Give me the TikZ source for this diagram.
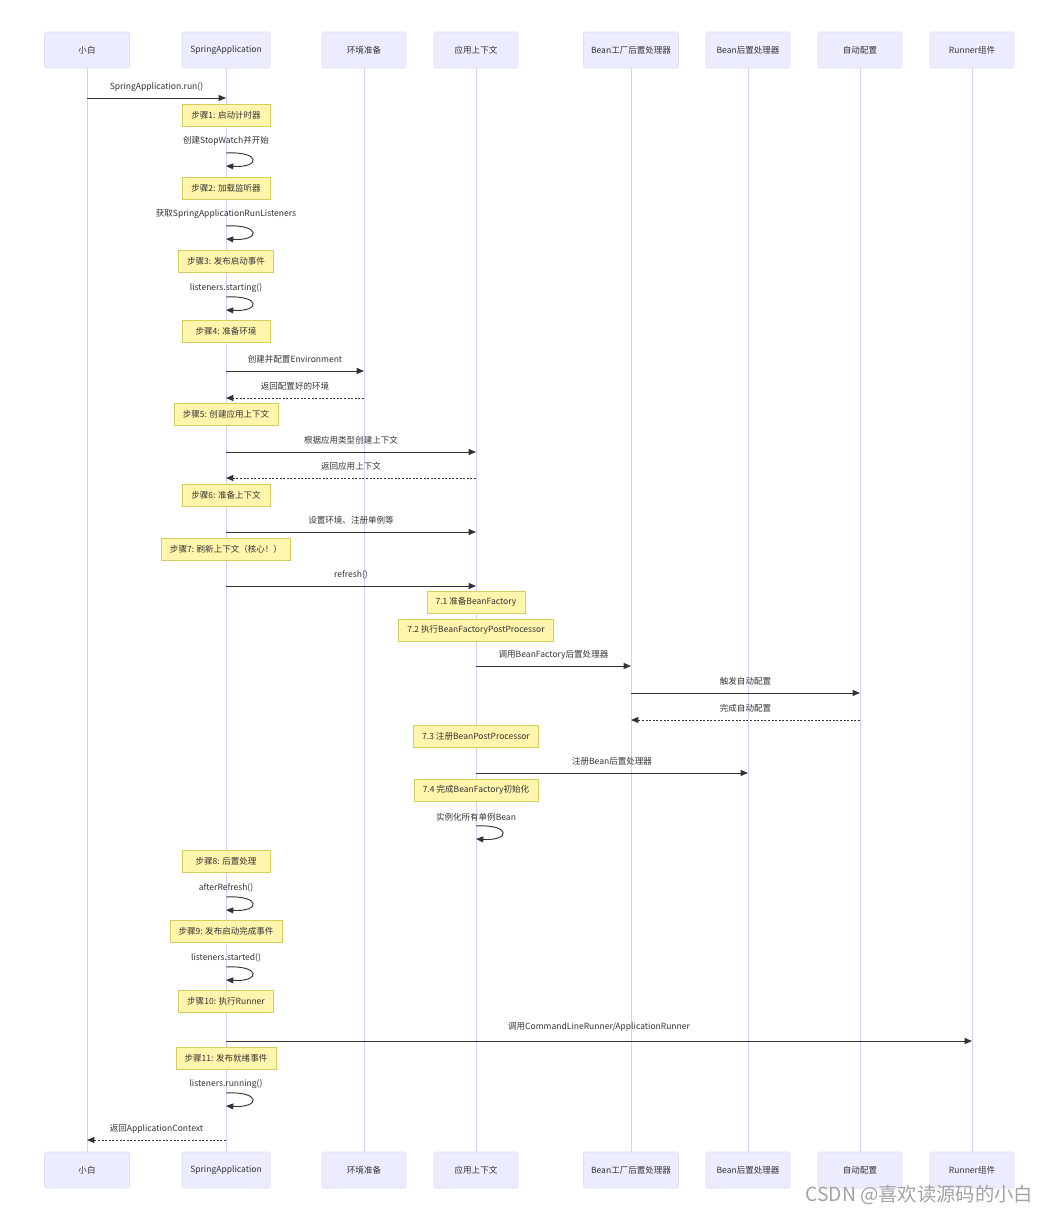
\documentclass[tikz,border=0pt]{standalone}
\usepackage{fontspec}
\usepackage{tikz}
\usetikzlibrary{arrows.meta,positioning,calc}
\newfontfamily\cjk{Noto Sans CJK SC}
\definecolor{actfill}{HTML}{ECECFF}
\definecolor{actbd}{HTML}{DDDDF6}
\definecolor{life}{HTML}{DACEF2}
\definecolor{notefill}{HTML}{FFF5AD}
\definecolor{notebd}{HTML}{D8CC5E}
\definecolor{txt}{HTML}{333333}
\definecolor{arr}{HTML}{333333}
\definecolor{wm}{HTML}{A3A3A3}

\begin{document}
\begin{tikzpicture}[x=0.75pt,y=-0.75pt,
  every node/.style={font=\cjk\fontsize{6.4}{7.5}\selectfont, text=txt},
  actor/.style={draw=actbd, fill=actfill, rounded corners=1.5pt, minimum height=27pt, inner xsep=2pt},
  lifeline/.style={draw=life, line width=0.75pt},
  note/.style={draw=notebd, fill=notefill, minimum width=66pt, minimum height=16.5pt, inner xsep=6.5pt, line width=0.5pt},
  msg/.style={draw=arr, line width=0.7pt, -{Triangle[length=5.5pt,width=4.5pt]}},
  ret/.style={msg, dash pattern=on 1.5pt off 1.2pt},
  lbl/.style={midway, yshift=8.5pt}]
  \fill[white] (0,0) rectangle (1042,1213);
  \useasboundingbox (0,0) rectangle (1042,1213);

  % participants, top and bottom, with lifelines
  \foreach \n/\px/\w/\t in {xb/87/85/小白, sa/226/88/SpringApplication, env/364/84/环境准备,
      ctx/476/84/应用上下文, bfpp/631/95/Bean工厂后置处理器, bpp/748/84/Bean后置处理器,
      auto/860/84/自动配置, runner/972/84/Runner组件}{
    \node[actor, minimum width=\w*0.75pt] (\n) at (\px,50) {\t};
    \node[actor, minimum width=\w*0.75pt] (\n b) at (\px,1170) {\t};
    \draw[lifeline] (\n) -- (\n b);
  }

  % notes
  \foreach \who/\ny/\t [count=\i] in {sa/115/步骤1: 启动计时器, sa/188/步骤2: 加载监听器,
      sa/261/步骤3: 发布启动事件, sa/331/步骤4: 准备环境, sa/414/步骤5: 创建应用上下文,
      sa/495/步骤6: 准备上下文, sa/549/步骤7: 刷新上下文（核心！）,
      ctx/602/7.1 准备BeanFactory, ctx/630/7.2 执行BeanFactoryPostProcessor,
      ctx/736/7.3 注册BeanPostProcessor, ctx/790/7.4 完成BeanFactory初始化,
      sa/861/步骤8: 后置处理, sa/931/步骤9: 发布启动完成事件, sa/1001/步骤10: 执行Runner,
      sa/1058/步骤11: 发布就绪事件}{
    \node[note] (note\i) at (\who |- 0,\ny) {\t};
  }

  % self calls
  \foreach \who/\ly/\sy/\t [count=\i] in {sa/141/153/创建StopWatch并开始,
      sa/214/226/获取SpringApplicationRunListeners, sa/288/297/listeners.starting(),
      ctx/817/826/实例化所有单例Bean, sa/888/897/afterRefresh(),
      sa/958/967/listeners.started(), sa/1084/1093/listeners.running()}{
    \node (self\i) at (\who |- 0,\ly) {\t};
    \draw[msg] (\who |- 0,\sy) .. controls +(35,-2) and +(35,2) .. (\who |- 0,\sy+13);
  }

  % messages
  \draw[msg] (xb |- 0,98) -- node[lbl] (m1) {SpringApplication.run()} (sa |- 0,98);
  \draw[msg] (sa |- 0,371) -- node[lbl] (m2) {创建并配置Environment} (env |- 0,371);
  \draw[ret] (env |- 0,398) -- node[lbl] (m3) {返回配置好的环境} (sa |- 0,398);
  \draw[msg] (sa |- 0,452) -- node[lbl] (m4) {根据应用类型创建上下文} (ctx |- 0,452);
  \draw[ret] (ctx |- 0,478) -- node[lbl] (m5) {返回应用上下文} (sa |- 0,478);
  \draw[msg] (sa |- 0,532) -- node[lbl] (m6) {设置环境、注册单例等} (ctx |- 0,532);
  \draw[msg] (sa |- 0,586) -- node[lbl] (m7) {refresh()} (ctx |- 0,586);
  \draw[msg] (ctx |- 0,666) -- node[lbl] (m8) {调用BeanFactory后置处理器} (bfpp |- 0,666);
  \draw[msg] (bfpp |- 0,693) -- node[lbl] (m9) {触发自动配置} (auto |- 0,693);
  \draw[ret] (auto |- 0,720) -- node[lbl] (m10) {完成自动配置} (bfpp |- 0,720);
  \draw[msg] (ctx |- 0,773) -- node[lbl] (m11) {注册Bean后置处理器} (bpp |- 0,773);
  \draw[msg] (sa |- 0,1041) -- node[lbl, yshift=2pt] (m12) {调用CommandLineRunner/ApplicationRunner} (runner |- 0,1041);
  \draw[ret] (sa |- 0,1140) -- node[lbl] (m13) {返回ApplicationContext} (xb |- 0,1140);

  \node[font=\cjk\fontsize{14.5}{15}\selectfont, text=wm, anchor=east] (wmark) at (1038,1195) {CSDN @喜欢读源码的小白};
\end{tikzpicture}
\end{document}
